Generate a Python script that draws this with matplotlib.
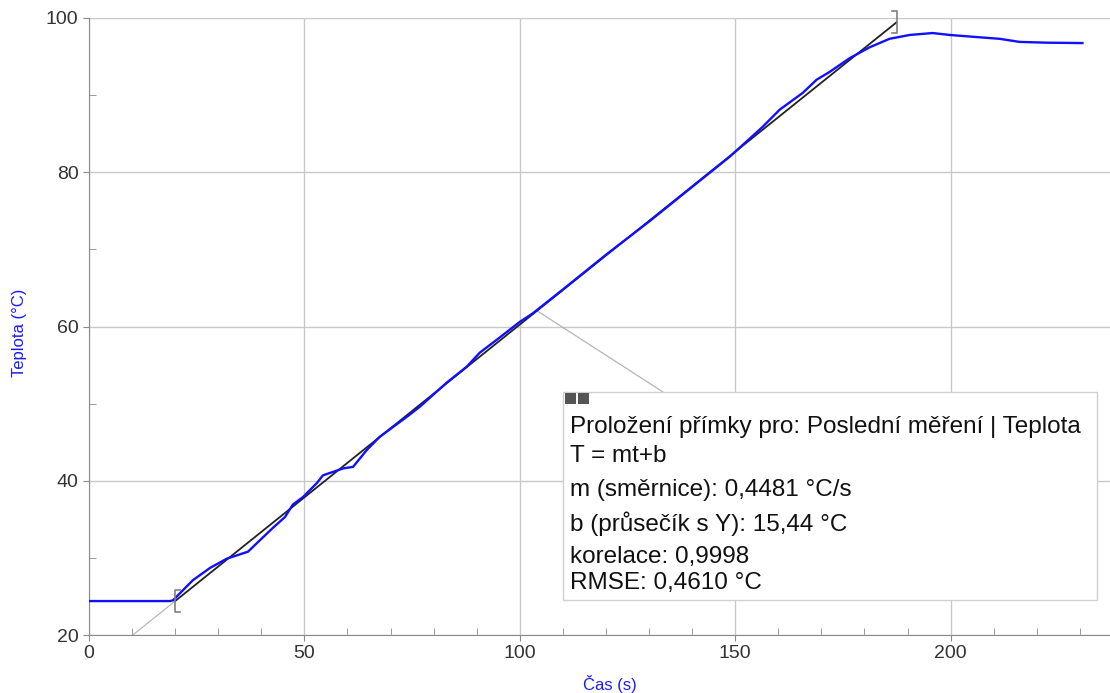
import numpy as np
import matplotlib.pyplot as plt
from matplotlib.patches import Rectangle
from matplotlib.ticker import MultipleLocator

plt.rcParams['font.family'] = ['Liberation Sans', 'DejaVu Sans']

# measured data (time in s, temperature in °C)
cas = [0, 5, 10, 15, 18.8, 19.5, 24.1, 28.1, 32, 36.9, 39.7, 42.7, 45.5, 47.3,
       49.7, 52.9, 54.3, 59, 61.3, 64.5, 67.5, 73.8, 76.8, 83, 87.7, 90.7,
       95.4, 100, 103, 110, 120, 130, 140, 148.7, 156.4, 160.3, 165.7, 168.9,
       171.9, 176.6, 181.2, 185.8, 190.5, 195.8, 199.8, 206.7, 211.4, 216,
       222.3, 230.6]
teplota = [24.4, 24.4, 24.4, 24.4, 24.4, 24.5, 27.1, 28.7, 29.9, 30.8, 32.3,
           33.9, 35.3, 36.9, 37.9, 39.7, 40.7, 41.6, 41.8, 44.0, 45.7, 48.3,
           49.6, 52.7, 54.8, 56.6, 58.6, 60.6, 61.7, 64.8, 69.3, 73.6, 78.1,
           82.0, 85.9, 88.1, 90.3, 92.0, 93.0, 94.8, 96.2, 97.3, 97.8, 98.05,
           97.8, 97.5, 97.3, 96.9, 96.8, 96.75]

# linear fit results
m = 0.4481
b = 15.44
fit_range = [20, 187.5]
callout_t = 104

fit_lines = [
    'Proložení přímky pro: Poslední měření | Teplota',
    'T = mt+b',
    'm (směrnice): 0,4481 °C/s',
    'b (průsečík s Y): 15,44 °C',
    'korelace: 0,9998',
    'RMSE: 0,4610 °C',
]

fig = plt.figure(figsize=(11.1, 6.93), dpi=100)
ax = fig.add_axes([89 / 1110, 1 - 635 / 693, 1 - 89 / 1110, (635 - 18) / 693])

ax.set_xlim(0, 237)
ax.set_ylim(20, 100)
ax.xaxis.set_major_locator(MultipleLocator(50))
ax.xaxis.set_minor_locator(MultipleLocator(10))
ax.yaxis.set_major_locator(MultipleLocator(20))
ax.yaxis.set_minor_locator(MultipleLocator(10))
ax.grid(True, which='major', color='#c8c8c8', lw=1)
ax.set_axisbelow(True)
for s in ['top', 'right']:
    ax.spines[s].set_visible(False)
for s in ['left', 'bottom']:
    ax.spines[s].set_color('#8a8a8a')
ax.tick_params(which='major', direction='out', length=4, color='#8a8a8a',
               labelsize=14, labelcolor='#333333')
ax.tick_params(which='minor', direction='in', length=5, color='#8a8a8a')

# extrapolated fit (thin grey) and fitted part (black)
t_ext = np.array([0, fit_range[0]])
ax.plot(t_ext, m * t_ext + b, color='#b0b0b0', lw=0.8, zorder=2)
t_fit = np.array(fit_range)
ax.plot(t_fit, m * t_fit + b, color='#222222', lw=1.3, zorder=3)

ax.plot(cas, teplota, color='#1010ff', lw=1.7, zorder=4)

# brackets marking the fit range
for t0, sgn in [(fit_range[0], 1), (fit_range[1], -1)]:
    yc = m * t0 + b
    ax.plot([t0 + sgn * 1.2, t0, t0, t0 + sgn * 1.2],
            [yc + 1.4, yc + 1.4, yc - 1.4, yc - 1.4],
            color='#808080', lw=1.2, zorder=5, clip_on=False)

fig.text(610 / 1110, 1 - 684 / 693, 'Čas (s)', color='#1a1aff', fontsize=12,
         ha='center', va='center')
fig.text(20 / 1110, 1 - 333 / 693, 'Teplota (°C)', color='#1a1aff',
         fontsize=12, ha='center', va='center', rotation=90)

# info box
bx0, by0, bx1, by1 = 563 / 1110, 1 - 600 / 693, 1097 / 1110, 1 - 392 / 693
ax.annotate('', xy=(663 / 1110, by1), xycoords='figure fraction',
            xytext=(callout_t, m * callout_t + b), textcoords='data',
            arrowprops=dict(arrowstyle='-', color='#b5b5b5', lw=0.9,
                            shrinkA=0, shrinkB=0), zorder=2)
fig.patches.append(Rectangle((bx0, by0), bx1 - bx0, by1 - by0,
                             transform=fig.transFigure, facecolor='white',
                             edgecolor='#d0d0d0', lw=1, zorder=6))
for i in range(2):
    fig.patches.append(Rectangle(((565 + i * 12.5) / 1110, 1 - 404 / 693),
                                 11 / 1110, 11 / 693, transform=fig.transFigure,
                                 facecolor='#555555', edgecolor='none', zorder=7))
line_y = [427, 456, 490, 524, 557, 583]
for txt, py in zip(fit_lines, line_y):
    fig.text(570 / 1110, 1 - py / 693, txt, fontsize=17.5, color='#111111',
             va='center', ha='left', zorder=8)

fig.savefig('out.png', dpi=100)
